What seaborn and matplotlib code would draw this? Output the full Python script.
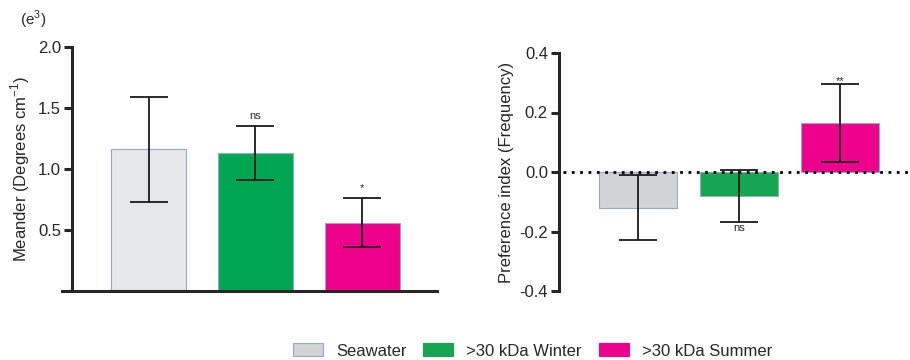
import pandas as pd
import matplotlib.pyplot as plt
import seaborn as sns
from matplotlib.patches import Patch

# グループ（固定）
groups = ["Seawater", ">30 kDa Winter", ">30 kDa Summer"]

# 左パネル: Meander
meander_mean = [1.16, 1.13, 0.56]
meander_err = [0.43, 0.22, 0.20]
meander_sig = ["", "ns", "*"]

# 右パネル: Preference index
pref_mean = [-0.12, -0.08, 0.165]
pref_err = [0.11, 0.087, 0.13]
pref_sig = ["", "ns", "**"]

colors_left = ["#e6e7e9", "#00a651", "#ec008c"]
colors_right = ["#d2d3d5", "#16a651", "#ec008c"]
edge = "#8fa9d4"

sns.set_style("ticks")
plt.rcParams['font.family'] = ['Liberation Sans', 'DejaVu Sans']
plt.rcParams['axes.unicode_minus'] = False

fig = plt.figure(figsize=(9.1, 3.6), dpi=100)
W, H = 910, 360


def px_axes(x0, x1, y_top, y_bot):
    return fig.add_axes([x0 / W, 1 - y_bot / H, (x1 - x0) / W, (y_bot - y_top) / H])


def draw(ax, means, errs, colors, width):
    df = pd.DataFrame({"group": groups, "value": means})
    sns.barplot(data=df, x="group", y="value", hue="group", palette=colors,
                saturation=1, width=width, legend=False, ax=ax, errorbar=None)
    for p in ax.patches:
        p.set_edgecolor(edge)
        p.set_linewidth(0.8)
    ax.errorbar(range(len(groups)), means, yerr=errs, fmt="none",
                ecolor="#1a1a1a", elinewidth=1.3, capsize=14, capthick=1.3, zorder=5)
    ax.set_xlabel("")
    ax.set_xticks([])
    for s in ["top", "right"]:
        ax.spines[s].set_visible(False)
    for s in ["left", "bottom"]:
        ax.spines[s].set_linewidth(2.2)
    ax.tick_params(axis="y", labelsize=12, width=2.2, length=6, pad=2)


# -----------------------
# 左: Meander
# -----------------------
ax1 = px_axes(62, 437, 47, 291)
draw(ax1, meander_mean, meander_err, colors_left, 0.7)
ax1.set_xlim(-0.81, 2.70)
ax1.set_ylim(0, 2.0)
ax1.set_yticks([0.5, 1.0, 1.5, 2.0])
ax1.spines["left"].set_position(("axes", 10 / 375))
ax1.set_ylabel("Meander (Degrees cm$^{\\mathregular{-1}}$)", fontsize=12, labelpad=4)
for i, s in enumerate(meander_sig):
    if s:
        ax1.text(i, meander_mean[i] + meander_err[i] + 0.04, s, ha="center",
                 va="bottom", fontsize=8)
fig.text(20 / W, 1 - 20 / H, "(e$^{\\mathregular{3}}$)", fontsize=11, va="center", ha="left")

# -----------------------
# 右: Preference index
# -----------------------
ax2 = px_axes(559, 910, 53, 291)
draw(ax2, pref_mean, pref_err, colors_right, 0.77)
ax2.set_xlim(-0.78, 2.69)
ax2.set_ylim(-0.4, 0.4)
ax2.set_yticks([-0.4, -0.2, 0.0, 0.2, 0.4])
ax2.spines["bottom"].set_visible(False)
ax2.axhline(0, color="black", linestyle=(0, (1, 2)), linewidth=2, zorder=6,
            xmin=0.01, xmax=1)
ax2.set_ylabel("Preference index (Frequency)", fontsize=12, labelpad=4)
ax2.text(1, pref_mean[1] - pref_err[1] - 0.005, pref_sig[1], ha="center",
         va="top", fontsize=8)
ax2.text(2, pref_mean[2] + pref_err[2] - 0.005, pref_sig[2], ha="center",
         va="bottom", fontsize=8)

# -----------------------
# 凡例
# -----------------------
handles = [Patch(facecolor=c, edgecolor=edge if i == 0 else c, linewidth=0.8)
           for i, c in enumerate(colors_right)]
fig.legend(handles, groups, loc="center", bbox_to_anchor=(0.585, 0.025),
           ncol=3, frameon=False, fontsize=12, handlelength=1.8,
           handleheight=0.8, handletextpad=0.8, columnspacing=1.0)

fig.savefig("out.png", dpi=100)
